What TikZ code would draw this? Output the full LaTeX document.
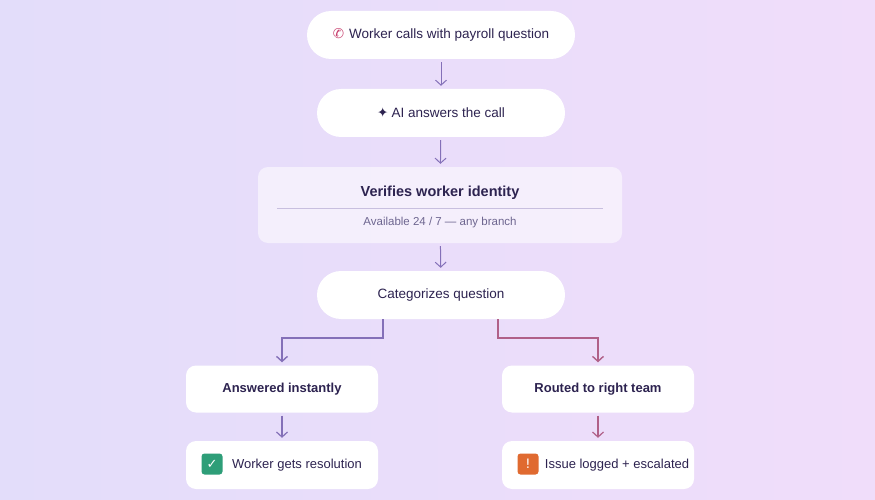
\documentclass[tikz,border=0pt]{standalone}
\usepackage{fontspec}
\setmainfont{Liberation Sans}
\newfontfamily\symfont{DejaVu Sans}
\usetikzlibrary{arrows.meta}
\definecolor{ink}{HTML}{2D2350}
\definecolor{subink}{HTML}{6E6690}
\definecolor{bgl}{HTML}{E3DDFA}
\definecolor{bgr}{HTML}{F0DDFA}
\definecolor{flowl}{HTML}{8470B8}
\definecolor{flowr}{HTML}{B06088}
\definecolor{okgreen}{HTML}{2E9E78}
\definecolor{warnorange}{HTML}{E06A30}
\definecolor{phonepink}{HTML}{C8406E}
\tikzset{
  pill/.style={fill=white,rounded corners=24pt,minimum width=#1,minimum height=48pt,
    text=ink,font=\fontsize{13.5pt}{15pt}\selectfont,inner sep=0pt},
  card/.style={fill=white,rounded corners=10pt,minimum width=192pt,minimum height=47pt,
    text=ink,font=\fontsize{13pt}{15pt}\selectfont,inner sep=0pt},
  flow/.style={draw=#1,line width=1pt,shorten <=3pt,shorten >=3pt,
    -{Straight Barb[length=5pt,width=11pt]}},
  badge/.style={fill=#1,rounded corners=3pt,minimum size=21pt,text=white,inner sep=0pt,
    font=\symfont\fontsize{13pt}{13pt}\selectfont}
}
\begin{document}
\begin{tikzpicture}[x=1pt,y=-1pt]
  \shade[left color=bgl,right color=bgr] (0,0) rectangle (875,500);
  \useasboundingbox (0,0) rectangle (875,500);
  % top of the flow
  \node[pill=268pt] (call) at (441,35)
    {{\symfont\bfseries\color{phonepink}\char"2706}\hspace{5pt}Worker calls with payroll question};
  \node[pill=248pt] (ai) at (441,113) {{\symfont\char"2726}\hspace{3pt}AI answers the call};
  \node[fill=white,fill opacity=0.55,rounded corners=10pt,minimum width=364pt,
    minimum height=76pt] (verify) at (440,205) {};
  \node[text=ink,font=\bfseries\fontsize{14.5pt}{16pt}\selectfont] (vtitle) at (440,193)
    {Verifies worker identity};
  \coordinate (rulel) at (277,208);
  \coordinate (ruler) at (603,208);
  \draw[color=flowl!45,line width=0.8pt] (rulel) -- (ruler);
  \node[text=subink,font=\fontsize{11.5pt}{13pt}\selectfont] (vsub) at (440,223)
    {Available 24 / 7 --- any branch};
  \node[pill=248pt] (sort) at (441,295) {Categorizes question};
  % two branches
  \node[card,font=\bfseries\fontsize{13pt}{15pt}\selectfont] (fast) at (282,389) {Answered instantly};
  \node[card,font=\bfseries\fontsize{13pt}{15pt}\selectfont] (route) at (598,389) {Routed to right team};
  \node[card,minimum height=48pt] (done) at (282,465)
    {\hspace{30pt}Worker gets resolution};
  \node[card,minimum height=48pt] (esc) at (598,465)
    {\hspace{38pt}Issue logged + escalated};
  \node[badge=okgreen] (okmark) at (212,464) {\char"2713};
  \node[badge=warnorange] (warnmark) at (528,464) {!};
  % connectors
  \draw[flow=flowl] (call) -- (ai);
  \draw[flow=flowl] (ai) -- (verify);
  \draw[flow=flowl] (verify) -- (sort);
  \draw[flow=flowl,line width=1.4pt,shorten <=0pt] (sort.south -| 383,0) |- (282,338) -- (fast.north);
  \draw[flow=flowr,line width=1.4pt,shorten <=0pt] (sort.south -| 498,0) |- (598,338) -- (route.north);
  \draw[flow=flowl,line width=1.2pt] (fast) -- (done);
  \draw[flow=flowr,line width=1.2pt] (route) -- (esc);
\end{tikzpicture}
\end{document}
